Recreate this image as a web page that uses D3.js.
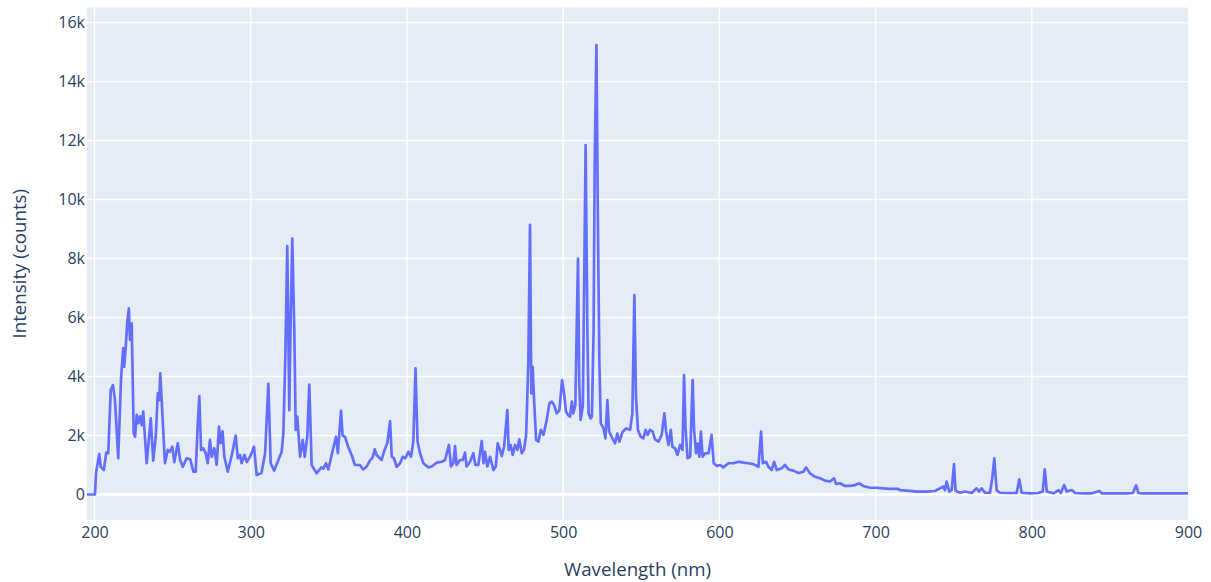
<!DOCTYPE html>
<html>
<head>
<meta charset="utf-8">
<script src="https://cdn.jsdelivr.net/npm/d3@7"></script>
<style>
  body { margin: 0; background: #fff; }
  svg { display: block; font-family: "Open Sans", sans-serif; }
  .axis text { fill: #2a3f5f; font-size: 16px; }
  .axis path, .axis line { display: none; }
</style>
</head>
<body>
<svg width="1211" height="582"></svg>
<script>
// spectrum: wavelength (nm) and intensity (counts)
var wavelength = [
  195.2, 200.3, 201, 203, 204, 206, 207.5, 208.8, 210.4, 211.8, 213.1, 215.2, 217, 218.4, 219, 220, 221, 222, 222.7, 223.8,
  225.1, 226, 227, 228, 229.1, 230.2, 231.2, 233.4, 236, 237.6, 239.2, 240.5, 241.4, 242.1, 243, 245.1, 246.9, 248.2, 249.8, 251.1,
  253.3, 254.8, 256.5, 259, 261.3, 263.3, 264.8, 266.1, 267.1, 268.2, 269.7, 271.2, 272.5, 273.9, 275, 276.7, 278.2, 279.7, 280.8, 282,
  283.1, 285.3, 287.9, 290.4, 291.7, 293.2, 294.2, 296, 297.5, 299.6, 302.1, 303.8, 306.9, 309.2, 311.3, 312.8, 315, 317.7, 319.8, 320.9,
  322.2, 323.4, 324.7, 325.6, 326.6, 327.9, 328.8, 329.8, 331.6, 333.3, 334.6, 336.2, 337.5, 339, 342.2, 345.2, 346.5, 348.2, 349.7, 351.8,
  354.6, 355.8, 357.8, 358.8, 360.3, 362.4, 364.6, 366.7, 369.9, 372, 374.1, 376.3, 378, 379.4, 380.6, 383.8, 385.3, 387.5, 389.2, 390.3,
  391.7, 393.4, 395.6, 397.3, 399, 400.9, 402.6, 404.1, 405.5, 406.8, 408.4, 410.5, 413.7, 415.9, 419.1, 422.3, 424.4, 426.9, 428.2, 429.7,
  430.8, 431.8, 434, 435.7, 437.2, 438.2, 440.4, 442.5, 443.8, 445.7, 447.9, 449, 450, 451.5, 453.2, 455.4, 456.9, 458.1, 459.6, 460.7,
  462.2, 464.3, 465.1, 466.4, 467.7, 469.2, 470.7, 471.9, 473.5, 474.9, 476.3, 477.7, 478.8, 479.6, 480.5, 481.4, 482.7, 484.2, 485.7, 487.4,
  489.5, 491.2, 492.7, 494.2, 495.9, 497.6, 499.3, 500.6, 501.8, 503.3, 504.4, 505.6, 506.5, 507.8, 509.5, 510.3, 511.2, 512.6, 514.4, 515.5,
  516.3, 517.6, 518.4, 519.5, 520.2, 521.3, 522.3, 523.2, 524.1, 525.8, 527.1, 528.3, 529.4, 531.1, 533.2, 534.7, 536, 538.1, 540.3, 542.9,
  544.3, 545.6, 546.6, 547.9, 549.6, 551.3, 552.8, 554.1, 555.6, 557.3, 558.8, 561, 563.1, 564.8, 565.9, 567.4, 568.9, 569.9, 571.7, 573.2,
  574.9, 576.4, 577.4, 578.3, 579.6, 581.3, 582.9, 583.8, 585.1, 586.1, 587.2, 588.2, 589.3, 591, 593.1, 595, 596.4, 598.4, 600.5, 602.6,
  605.8, 609, 612.2, 615.4, 618.6, 621.8, 625, 626.7, 627.8, 629.9, 631.4, 633.5, 635, 636.7, 639.9, 642, 644.2, 647.4, 650.6, 653.8,
  655.5, 658, 661.2, 664.4, 667.6, 670.8, 673.4, 674.7, 677.2, 680.4, 683.6, 686.8, 689.6, 692.1, 696.4, 700.7, 704.9, 709.2, 714.5, 715.6,
  719.9, 726.3, 732.7, 738, 741.2, 743.4, 744.4, 745.5, 747.2, 748.7, 750.2, 751.2, 754, 757.2, 761.5, 764.7, 766.2, 767.9, 770, 773.2,
  774.7, 776, 777.5, 779.6, 784.9, 790.3, 792, 793.5, 798.8, 804.2, 807, 808.3, 809.6, 813.9, 817.1, 818.6, 820.7, 822.4, 825.6, 827.8,
  833.1, 838.4, 843.3, 844.8, 852.3, 860.8, 864.7, 866.8, 868.3, 871.5, 882.2, 890.7, 900
];
var intensity = [
  0, 0, 740, 1370, 940, 830, 1420, 1400, 3540, 3710, 3200, 1230, 3950, 4960, 4330, 5010, 5860, 6310, 5240, 5800,
  2080, 1960, 2700, 2420, 2650, 2350, 2810, 1060, 2580, 1150, 1960, 3430, 3200, 4110, 3200, 1060, 1510, 1450, 1620, 1100,
  1735, 1170, 940, 1230, 1190, 775, 775, 2410, 3340, 1510, 1570, 1400, 1060, 1850, 1280, 1570, 1000, 2300, 1740, 2140,
  1280, 775, 1340, 2000, 1230, 1340, 1060, 1340, 1100, 1280, 1620, 660, 730, 1400, 3750, 1060, 810, 1170, 1450, 2070,
  4790, 8420, 2860, 6000, 8680, 5580, 2190, 2640, 1280, 1850, 1280, 1960, 3730, 1000, 720, 920, 880, 1060, 850, 1340,
  1960, 1400, 2840, 2000, 1960, 1620, 1340, 1000, 1000, 850, 940, 1150, 1250, 1530, 1340, 1170, 1450, 1760, 2490, 1280,
  1230, 940, 1060, 1280, 1230, 1450, 1280, 1800, 4280, 1800, 1400, 1060, 920, 950, 1080, 1110, 1170, 1680, 950, 1060,
  1640, 1000, 1170, 1170, 1420, 950, 1110, 1400, 1000, 1000, 1820, 1060, 1450, 950, 1280, 830, 950, 1735, 1510, 1300,
  1620, 2860, 1510, 1680, 1340, 1680, 1510, 1870, 1400, 1510, 2000, 4450, 9140, 3430, 4330, 3200, 1850, 1790, 2190, 2020,
  2530, 3090, 3150, 3030, 2750, 2860, 3880, 3430, 2810, 2690, 2640, 3150, 2750, 3030, 8000, 3770, 2530, 3000, 11850, 5580,
  2750, 2580, 2640, 5580, 11230, 15240, 8970, 4440, 2410, 2250, 1900, 3200, 2150, 1950, 1735, 2070, 1790, 2130, 2240, 2200,
  2750, 6760, 3320, 2190, 1960, 1900, 2190, 2020, 2190, 2130, 1870, 1790, 2020, 2750, 2130, 1680, 2190, 1620, 1560, 1340,
  1680, 1510, 4050, 2300, 1230, 1280, 3880, 2190, 1400, 1730, 1280, 2130, 1280, 1400, 1400, 2020, 1060, 970, 1000, 920,
  1060, 1060, 1110, 1080, 1060, 1030, 940, 2130, 1060, 1110, 940, 830, 1110, 830, 890, 1000, 850, 810, 730, 770,
  920, 720, 600, 550, 470, 440, 550, 360, 380, 290, 290, 320, 380, 290, 230, 230, 210, 190, 190, 150,
  130, 100, 100, 120, 210, 270, 150, 440, 100, 150, 1030, 130, 60, 100, 50, 210, 100, 210, 60, 60,
  550, 1230, 150, 60, 50, 50, 515, 60, 40, 50, 100, 850, 100, 40, 150, 50, 320, 100, 150, 50,
  40, 40, 120, 40, 40, 40, 50, 310, 50, 40, 40, 40, 40
];
var xTicks = [200, 300, 400, 500, 600, 700, 800, 900];
var yTicks = [0, 2000, 4000, 6000, 8000, 10000, 12000, 14000, 16000];

var svg = d3.select("svg"),
    margin = {top: 7.5, right: 23, bottom: 62, left: 87},
    width = svg.attr("width") - margin.left - margin.right,
    height = svg.attr("height") - margin.top - margin.bottom;

var x = d3.scaleLinear().domain([195.2, 900]).range([0, width]),
    y = d3.scaleLinear().domain([-864, 16510]).range([height, 0]);

var g = svg.append("g")
  .attr("transform", "translate(" + margin.left + "," + margin.top + ")");

g.append("rect")
  .attr("width", width)
  .attr("height", height)
  .attr("fill", "#e5ecf6");

// grid
g.selectAll(".vgrid")
  .data(xTicks.filter(function(d) { return d < 900; }))
  .enter().append("line")
  .attr("x1", function(d) { return x(d); })
  .attr("x2", function(d) { return x(d); })
  .attr("y1", 0).attr("y2", height)
  .attr("stroke", "#fff").attr("stroke-width", 1.33);

g.selectAll(".hgrid")
  .data(yTicks)
  .enter().append("line")
  .attr("x1", 0).attr("x2", width)
  .attr("y1", function(d) { return y(d); })
  .attr("y2", function(d) { return y(d); })
  .attr("stroke", "#fff")
  .attr("stroke-width", function(d) { return d === 0 ? 2.67 : 1.33; });

var line = d3.line()
  .x(function(d, i) { return x(wavelength[i]); })
  .y(function(d) { return y(d); });

g.append("path")
  .datum(intensity)
  .attr("fill", "none")
  .attr("stroke", "#636efa")
  .attr("stroke-width", 2.67)
  .attr("stroke-linejoin", "round")
  .attr("d", line);

g.append("g")
  .attr("class", "axis")
  .attr("transform", "translate(0," + height + ")")
  .call(d3.axisBottom(x).tickValues(xTicks).tickSize(0).tickPadding(7).tickFormat(d3.format("d")));

g.append("g")
  .attr("class", "axis")
  .call(d3.axisLeft(y).tickValues(yTicks).tickSize(0).tickPadding(2)
    .tickFormat(function(d) { return d === 0 ? "0" : (d / 1000) + "k"; }));

svg.selectAll(".axis").attr("font-family", null).attr("font-size", null);

// axis titles
svg.append("text")
  .attr("x", margin.left + width / 2)
  .attr("y", 576)
  .attr("text-anchor", "middle")
  .attr("fill", "#2a3f5f")
  .style("font-size", "18.7px")
  .text("Wavelength (nm)");

svg.append("text")
  .attr("transform", "translate(26," + (margin.top + height / 2) + ") rotate(-90)")
  .attr("text-anchor", "middle")
  .attr("fill", "#2a3f5f")
  .style("font-size", "18.7px")
  .text("Intensity (counts)");
</script>
</body>
</html>
